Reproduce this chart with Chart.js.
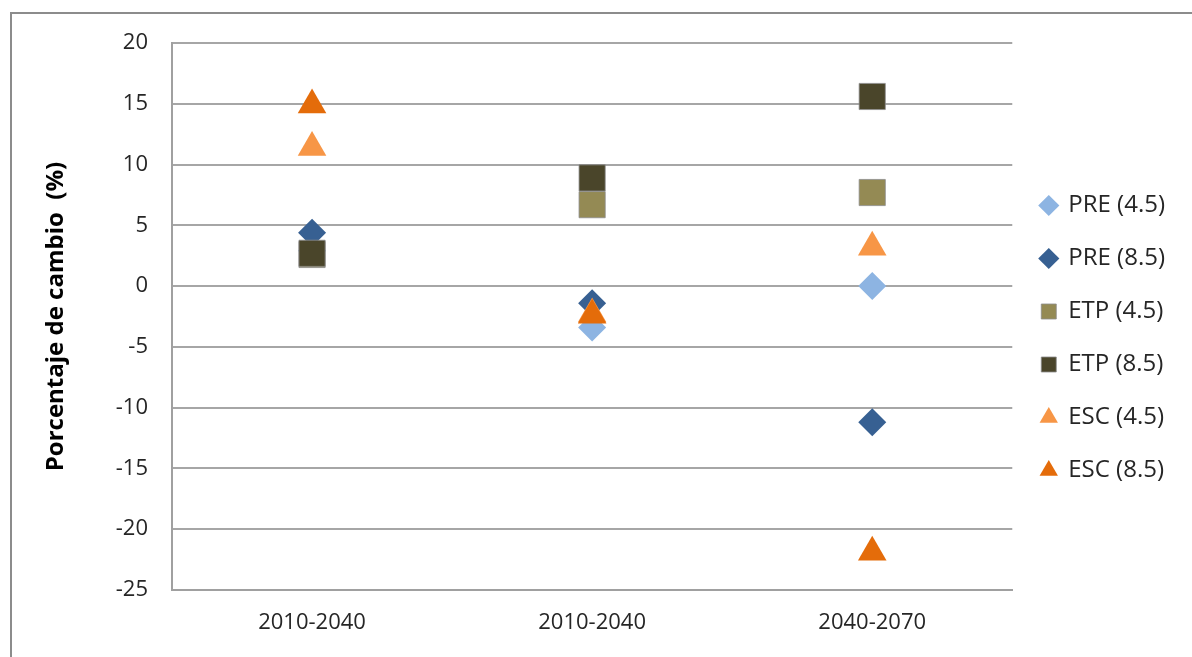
<!DOCTYPE html>
<html>
<head>
<meta charset="utf-8">
<script src="https://cdn.jsdelivr.net/npm/chart.js@4.4.1/dist/chart.umd.min.js"></script>
<style>
html,body{margin:0;padding:0;background:#fff;}
#wrap{width:1192px;height:657px;position:relative;}
</style>
</head>
<body>
<div id="wrap"><canvas id="c" width="1192" height="657"></canvas></div>
<script>
const categories = ["2010-2040", "2010-2040", "2040-2070"];
const seriesNames = ["PRE (4.5)", "PRE (8.5)", "ETP (4.5)", "ETP (8.5)", "ESC (4.5)", "ESC (8.5)"];
const pre45 = [2.9, -3.4, 0.0];
const pre85 = [4.4, -1.4, -11.2];
const etp45 = [2.6, 6.7, 7.7];
const etp85 = [2.7, 8.9, 15.6];
const esc45 = [11.4, -2.3, 3.2];
const esc85 = [14.9, -2.4, -21.9];
const yTicks = [20, 15, 10, 5, 0, -5, -10, -15, -20, -25];

const colors = ["#8db4e2", "#376092", "#948a54", "#4a452a", "#f79646", "#e46c0a"];
const styles = ["rectRot", "rectRot", "rect", "rect", "triangle", "triangle"];
const radii = [14, 14, 18.5, 18.5, 16.5, 16.5];
const values = [pre45, pre85, etp45, etp85, esc45, esc85];

const borderPlugin = {
  id: 'outerBorder',
  beforeDraw(chart) {
    const ctx = chart.ctx;
    ctx.save();
    ctx.strokeStyle = '#8c8c8c';
    ctx.lineWidth = 2;
    ctx.strokeRect(11, 13, 1300, 800);
    ctx.restore();
  }
};

new Chart(document.getElementById('c'), {
  type: 'line',
  data: {
    labels: categories,
    datasets: seriesNames.map((n, i) => ({
      label: n,
      data: values[i],
      order: seriesNames.length - i,
      showLine: false,
      pointStyle: styles[i],
      pointRadius: radii[i],
      pointHoverRadius: radii[i],
      backgroundColor: colors[i],
      borderColor: (styles[i] === 'rect') ? 'rgba(140,140,140,0.8)' : colors[i],
      pointBorderWidth: (styles[i] === 'rect') ? 1 : 0
    }))
  },
  options: {
    responsive: false,
    animation: false,
    layout: { padding: { left: 14, top: 43, right: 17, bottom: 24 } },
    plugins: {
      legend: {
        position: 'right',
        labels: {
          usePointStyle: true,
          boxHeight: 15,
          boxWidth: 15,
          padding: 29,
          color: '#262626',
          font: { family: 'Open Sans', size: 24 },
          sort: (a, b) => a.datasetIndex - b.datasetIndex
        }
      },
      tooltip: { enabled: false }
    },
    scales: {
      x: {
        offset: true,
        grid: { display: false, drawTicks: false },
        border: { display: true, color: '#a0a0a0', width: 2 },
        ticks: { color: '#262626', padding: 20, font: { family: 'Open Sans', size: 22 } },
        afterFit(s) { s.height = 43; }
      },
      y: {
        min: -25, max: 20,
        afterBuildTicks(s) { s.ticks = yTicks.map(v => ({ value: v })); },
        grid: { color: '#a6a6a6', lineWidth: 2, drawTicks: false },
        border: { display: true, color: '#a0a0a0', width: 2 },
        ticks: { color: '#262626', padding: 24, font: { family: 'Open Sans', size: 22 } },
        title: {
          display: true,
          text: 'Porcentaje de cambio  (%)',
          color: '#000',
          font: { family: 'Open Sans', size: 24, weight: 'bold' },
          padding: { top: 28, bottom: 0 }
        },
        afterFit(s) { s.width = 158; }
      }
    }
  },
  plugins: [borderPlugin]
});
</script>
</body>
</html>
